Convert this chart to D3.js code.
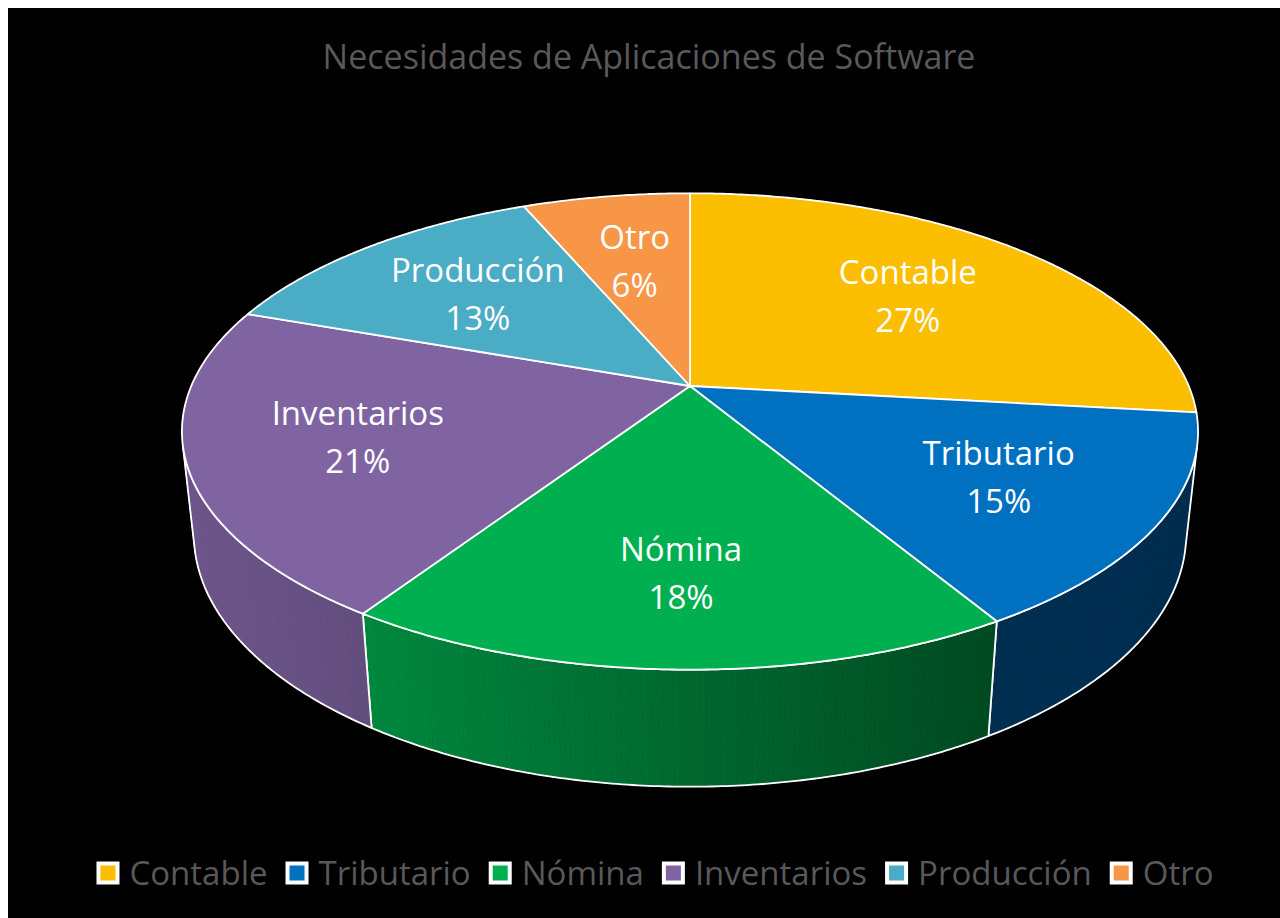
<!DOCTYPE html>
<html>
<head>
<meta charset="utf-8">
<script src="https://cdn.jsdelivr.net/npm/d3@7"></script>
<style>
  html, body { margin: 0; padding: 0; background: #fff; }
  svg { display: block; }
</style>
</head>
<body>
<div id="chart"></div>
<script>
// ---- data ----
const title = "Necesidades de Aplicaciones de Software";
const categories = ["Contable", "Tributario", "Nómina", "Inventarios", "Producción", "Otro"];
const values = [26.8, 14.6, 17.9, 21.1, 13.2, 6.4];
const colors = ["#FBBE00", "#0070C0", "#00B050", "#8064A2", "#4BACC6", "#F79646"];

// ---- layout ----
const W = 1280, H = 918;
const FONT = "'Open Sans', 'Noto Sans', sans-serif";
const svg = d3.select("#chart").append("svg").attr("width", W).attr("height", H);
svg.append("rect").attr("width", W).attr("height", H).attr("fill", "#fff");
svg.append("rect").attr("x", 8).attr("y", 8).attr("width", W - 8).attr("height", H - 8).attr("fill", "#000");

svg.append("text")
  .attr("x", 649).attr("y", 69)
  .attr("text-anchor", "middle")
  .attr("font-family", FONT).attr("font-size", 34)
  .attr("fill", "#595959")
  .text(title);

// perspective camera for the 3D pie
const cam = { cx: 690, cy: 386, F: 2320, tilt: 27.4 * Math.PI / 180, D: 4.652, h: 0.235 };
const sT = Math.sin(cam.tilt), cT = Math.cos(cam.tilt);
function proj(a, r, y) {
  const X = r * Math.sin(a), Z = -r * Math.cos(a);
  const depth = cam.D - y * sT - Z * cT;
  return [cam.cx + cam.F * X / depth, cam.cy - cam.F * (y * cT - Z * sT) / depth];
}
const total = d3.sum(values);
const arcs = d3.pie().sort(null).startAngle(0).endAngle(2 * Math.PI)(values);

const STEP = Math.PI / 360;
function arcPts(a0, a1, r, y) {
  const n = Math.max(2, Math.ceil((a1 - a0) / STEP));
  return d3.range(n + 1).map(i => proj(a0 + (a1 - a0) * i / n, r, y));
}
const line = d3.line();

// visible outer wall range
const edge = Math.asin(1 / (cam.D * cT));
const vis0 = Math.PI / 2 + edge, vis1 = 3 * Math.PI / 2 - edge;
const shade = d3.scaleLinear().domain([190, 1000]).range([0.87, 0.42]).clamp(true);

const gWalls = svg.append("g");
arcs.forEach((d, i) => {
  const a0 = Math.max(d.startAngle, vis0), a1 = Math.min(d.endAngle, vis1);
  if (a0 >= a1) return;
  const base = d3.rgb(colors[i]);
  const n = Math.max(2, Math.ceil((a1 - a0) / STEP));
  for (let k = 0; k < n; k++) {
    const t0 = a0 + (a1 - a0) * k / n, t1 = a0 + (a1 - a0) * (k + 1) / n;
    const q = [proj(t0, 1, 0), proj(t1, 1, 0), proj(t1, 1, -cam.h), proj(t0, 1, -cam.h)];
    const f = shade((q[0][0] + q[1][0]) / 2);
    const col = d3.rgb(base.r * f, base.g * f, base.b * f).toString();
    gWalls.append("path").attr("d", line(q) + "Z").attr("fill", col).attr("stroke", col).attr("stroke-width", 0.8);
  }
  const outline = arcPts(a0, a1, 1, 0).concat(arcPts(a0, a1, 1, -cam.h).reverse());
  gWalls.append("path").attr("d", line(outline) + "Z")
    .attr("fill", "none").attr("stroke", "#fff").attr("stroke-width", 1.8).attr("stroke-linejoin", "round");
});

// top faces
const gTop = svg.append("g");
arcs.forEach((d, i) => {
  const pts = [proj(0, 0, 0)].concat(arcPts(d.startAngle, d.endAngle, 1, 0));
  gTop.append("path").attr("d", line(pts) + "Z")
    .attr("fill", colors[i]).attr("stroke", "#fff").attr("stroke-width", 1.8).attr("stroke-linejoin", "round");
});

// data labels
const apex = proj(0, 0, 0);
const gLab = svg.append("g").attr("font-family", FONT).attr("font-size", 33).attr("fill", "#fff").attr("text-anchor", "middle");
arcs.forEach((d, i) => {
  const mid = (d.startAngle + d.endAngle) / 2;
  const e = proj(mid, 1, 0);
  const k = 0.66;
  const x = apex[0] + (e[0] - apex[0]) * k;
  const y = apex[1] + (e[1] - apex[1]) * k;
  gLab.append("text").attr("x", x).attr("y", y - 12).text(categories[i]);
  gLab.append("text").attr("x", x).attr("y", y + 36).text(Math.round(values[i] / total * 100) + "%");
});

// legend
const gLeg = svg.append("g").attr("font-family", FONT).attr("font-size", 33).attr("fill", "#595959");
let cursor = 0;
const items = [];
categories.forEach((name, i) => {
  const g = gLeg.append("g");
  g.append("rect").attr("x", 0).attr("y", -11.5).attr("width", 23).attr("height", 23).attr("fill", "#fff");
  g.append("rect").attr("x", 4).attr("y", -7.5).attr("width", 15).attr("height", 15).attr("fill", colors[i]);
  const t = g.append("text").attr("x", 33).attr("y", 12).text(name);
  const w = 33 + t.node().getComputedTextLength();
  items.push({ g, x: cursor });
  cursor += w + 18;
});
const legW = cursor - 18;
const legX0 = 655 - legW / 2;
items.forEach(it => it.g.attr("transform", `translate(${legX0 + it.x},873)`));
</script>
</body>
</html>
